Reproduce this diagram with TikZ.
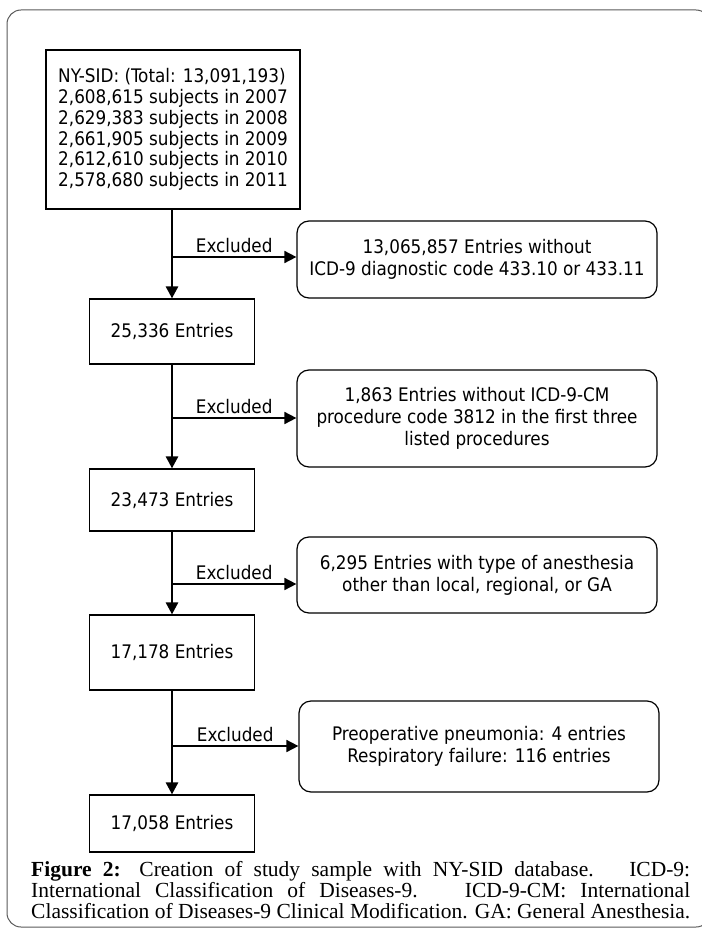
\documentclass[tikz,border=0pt]{standalone}
\usepackage{fontspec}
\usepackage{graphicx}
\setmainfont{Liberation Serif}
\newfontfamily\boxfont{DejaVu Sans Condensed}
\usetikzlibrary{arrows.meta}
\begin{document}
\begin{tikzpicture}[x=1pt,y=-1pt,
  every node/.style={font=\boxfont\fontsize{18.7}{22}\selectfont, inner sep=0pt},
  sq/.style={draw, line width=1.2pt, align=center},
  rbox/.style={draw, line width=1.2pt, rounded corners=12pt, minimum width=360pt, align=center},
  flow/.style={line width=2.6pt, -{Triangle[length=12pt,width=12pt]}},
  excl/.style={line width=1.7pt, -{Triangle[length=12pt,width=12pt]}},
  lbl/.style={above, inner sep=3pt},
  capline/.style={font=\rmfamily\fontsize{21.5}{21}\selectfont, align=left, anchor=base west}
]
\useasboundingbox (0,0) rectangle (701,928);
\draw[black!65, line width=1pt, rounded corners=14pt] (7,10) rectangle (710,927);

\node[sq, minimum width=254pt, minimum height=159pt, align=left,
      font=\boxfont\fontsize{18.7}{20.8}\selectfont] (top) at (173,129.5)
 {NY-SID: (Total: 13,091,193)\\2,608,615 subjects in 2007\\2,629,383 subjects in 2008\\2,661,905 subjects in 2009\\2,612,610 subjects in 2010\\2,578,680 subjects in 2011};
\node[sq, minimum width=165pt, minimum height=65pt] (n1) at (172,331.5) {25,336 Entries};
\node[sq, minimum width=165pt, minimum height=62pt] (n2) at (172,500) {23,473 Entries};
\node[sq, minimum width=165pt, minimum height=75pt] (n3) at (172,652.5) {17,178 Entries};
\node[sq, minimum width=165pt, minimum height=57pt] (n4) at (172,823.5) {17,058 Entries};

\node[rbox, minimum height=77pt] (r1) at (477,259.5) {13,065,857 Entries without\\ICD-9 diagnostic code 433.10 or 433.11};
\node[rbox, minimum height=97pt] (r2) at (477,418.5) {1,863 Entries without ICD-9-CM\\procedure code 3812 in the first three\\listed procedures};
\node[rbox, minimum height=76pt] (r3) at (477,575) {6,295 Entries with type of anesthesia\\other than local, regional, or GA};
\node[rbox, minimum height=91pt] (r4) at (479,746.5) {Preoperative pneumonia: 4 entries\\Respiratory failure: 116 entries};

\coordinate (c1) at (172,257);
\coordinate (c2) at (172,418);
\coordinate (c3) at (172,584);
\coordinate (c4) at (172,746);

\draw[flow] (top.south -| c1) -- (n1);
\draw[flow] (n1) -- (n2);
\draw[flow] (n2) -- (n3);
\draw[flow] (n3) -- (n4);

\draw[excl] (c1) -- node[lbl] {Excluded} (c1 -| r1.west);
\draw[excl] (c2) -- node[lbl] {Excluded} (c2 -| r2.west);
\draw[excl] (c3) -- node[lbl] {Excluded} (c3 -| r3.west);
\draw[excl] (c4) -- node[lbl] {Excluded} (c4 -| r4.west);

\node[capline] (cap1) at (31,876)
 {\makebox[659pt][s]{\textbf{Figure 2:} Creation of study sample with NY-SID database. \ ICD-9:}};
\node[capline] (cap2) at (31,897)
 {\makebox[659pt][s]{International Classification of Diseases-9. \ ICD-9-CM: International}};
\node[capline] (cap3) at (31,918)
 {\resizebox{659pt}{\height}{Classification of Diseases-9 Clinical Modification. GA: General Anesthesia.}};
\end{tikzpicture}
\end{document}
